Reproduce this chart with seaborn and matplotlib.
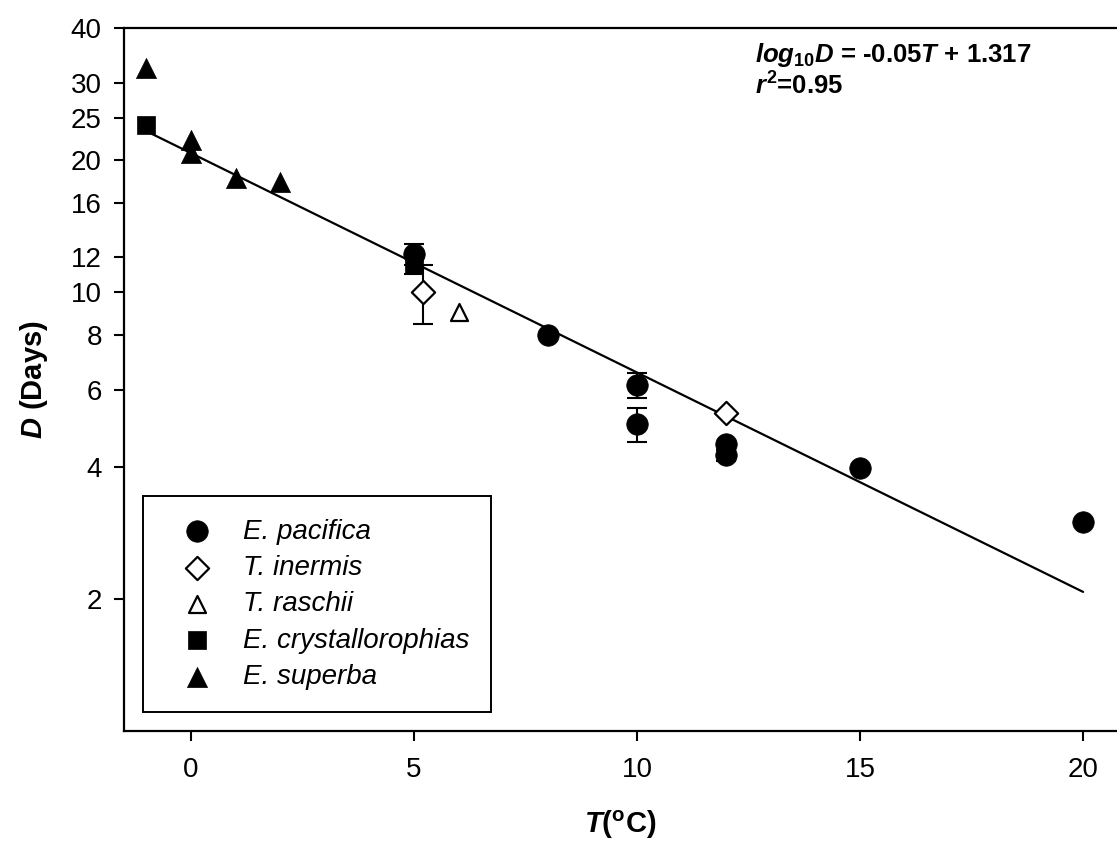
import numpy as np
import pandas as pd
import matplotlib
matplotlib.use("Agg")
import matplotlib.pyplot as plt
import seaborn as sns
from matplotlib.ticker import FixedLocator, FixedFormatter, NullLocator

# ---------------- data ----------------
epac_T = [5, 8, 10, 10, 12, 12, 15, 20]
epac_D = [12.2, 8.0, 6.15, 5.0, 4.5, 4.25, 3.97, 3.0]
epac_err = [0.65, 0, 0.4, 0.45, 0, 0.12, 0, 0]

tin_T = [5.2, 12]
tin_D = [10.0, 5.3]
tin_err = [1.55, 0]

tra_T = [6]
tra_D = [9.0]
tra_err = [0]

ecr_T = [-1, 5]
ecr_D = [24.0, 11.6]
ecr_err = [0, 0.6]

esu_T = [-1, 0, 0, 1, 2]
esu_D = [32.4, 22.2, 20.8, 18.2, 17.8]
esu_err = [0, 0, 0, 0, 0]

species = ["E. pacifica", "T. inermis", "T. raschii", "E. crystallorophias", "E. superba"]

slope = -0.05
intercept = 1.317
line_T = np.array([-1.0, 20.0])

y_ticks = [2, 4, 6, 8, 10, 12, 16, 20, 25, 30, 40]
x_ticks = [0, 5, 10, 15, 20]

# ---------------- styling ----------------
sns.set_theme(style="ticks")
plt.rcParams["font.family"] = ["Liberation Sans", "DejaVu Sans"]
plt.rcParams["mathtext.fontset"] = "custom"
plt.rcParams["mathtext.rm"] = "Liberation Sans:bold"
plt.rcParams["mathtext.it"] = "Liberation Sans:italic:bold"
plt.rcParams["mathtext.bf"] = "Liberation Sans:bold"
for k in ["text.color", "axes.labelcolor", "xtick.color", "ytick.color", "axes.edgecolor"]:
    plt.rcParams[k] = "black"

frames = []
for name, T, D, E in zip(species,
                         [epac_T, tin_T, tra_T, ecr_T, esu_T],
                         [epac_D, tin_D, tra_D, ecr_D, esu_D],
                         [epac_err, tin_err, tra_err, ecr_err, esu_err]):
    frames.append(pd.DataFrame({"species": name, "T": T, "D": D, "err": E}))
df = pd.concat(frames, ignore_index=True)

styles = {
    "E. pacifica": dict(marker="o", s=240, color="black", edgecolor="black", linewidth=0.5),
    "T. inermis": dict(marker="D", s=140, color="white", edgecolor="black", linewidth=1.6),
    "T. raschii": dict(marker="^", s=150, color="white", edgecolor="black", linewidth=1.6),
    "E. crystallorophias": dict(marker="s", s=150, color="black", edgecolor="black", linewidth=0.5),
    "E. superba": dict(marker="^", s=210, color="black", edgecolor="black", linewidth=0.5),
}

fig = plt.figure(figsize=(11.17, 8.56), dpi=100)
ax = fig.add_axes([124 / 1117, 125 / 856, 993 / 1117, 703 / 856])

# regression line
sns.lineplot(x=line_T, y=10 ** (intercept + slope * line_T), color="black",
             linewidth=1.6, ax=ax, zorder=1, legend=False)

# error bars
eb = df[df["err"] > 0]
ax.errorbar(eb["T"], eb["D"], yerr=eb["err"], fmt="none", ecolor="black",
            elinewidth=1.5, capsize=7, capthick=1.5, zorder=2)

for name in species:
    sub = df[df["species"] == name]
    sns.scatterplot(data=sub, x="T", y="D", ax=ax, label=name, zorder=3,
                    **styles[name])

ax.set_yscale("log")
ax.set_ylim(1, 40)
ax.set_xlim(-1.5, 20.76)
ax.yaxis.set_major_locator(FixedLocator(y_ticks))
ax.yaxis.set_major_formatter(FixedFormatter([str(v) for v in y_ticks]))
ax.yaxis.set_minor_locator(NullLocator())
ax.set_xticks(x_ticks)
ax.set_xticklabels([str(v) for v in x_ticks])

for side in ["left", "bottom", "top"]:
    ax.spines[side].set_linewidth(1.6)
    ax.spines[side].set_color("black")
ax.spines["right"].set_visible(False)
ax.tick_params(axis="both", which="major", direction="out", length=7, width=1.5,
               color="black", labelsize=20, labelcolor="black")
ax.tick_params(axis="x", pad=12)
ax.tick_params(axis="y", pad=9)

ax.set_xlabel(r"$T$($^{\mathrm{o}}$C)", fontsize=21, fontweight="bold", labelpad=18)
ax.set_ylabel(r"$D$ (Days)", fontsize=21, fontweight="bold", labelpad=15)

ax.text(0.635, 0.961, r"$log_{\mathrm{10}}D$ = -0.05$T$ + 1.317", transform=ax.transAxes,
        fontsize=18.5, fontweight="bold", ha="left", va="center")
ax.text(0.635, 0.917, r"$r^{\mathrm{2}}$=0.95", transform=ax.transAxes,
        fontsize=18.5, fontweight="bold", ha="left", va="center")

leg = ax.legend(loc="lower left", bbox_to_anchor=(0.019, 0.027), borderaxespad=0,
                frameon=True, fancybox=False, prop={"style": "italic", "size": 20},
                labelspacing=0.37, handlelength=2.3, handletextpad=0.5, borderpad=0.8)
leg.get_frame().set_edgecolor("black")
leg.get_frame().set_linewidth(1.4)
leg.get_frame().set_facecolor("white")
leg.get_frame().set_alpha(1)

ax.set_facecolor("white")
fig.patch.set_facecolor("white")
fig.savefig("out.png", dpi=100)
